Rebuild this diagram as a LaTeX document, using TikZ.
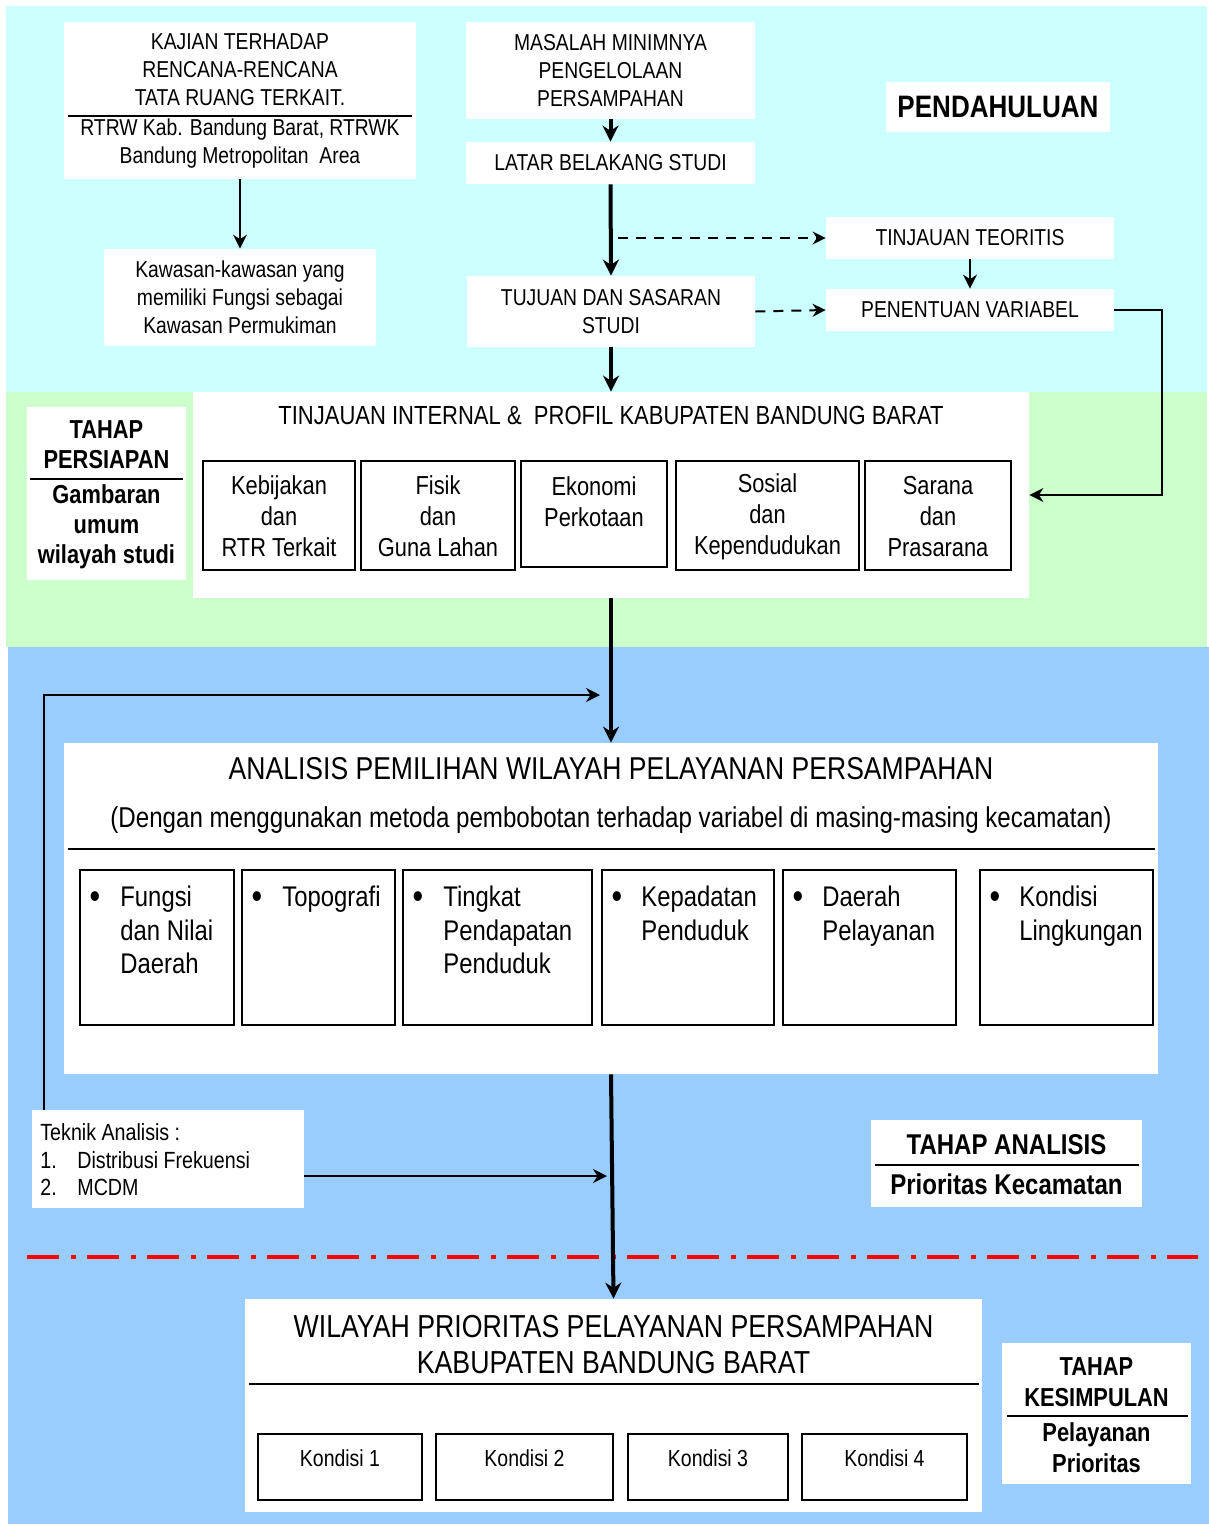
\documentclass[tikz,border=0pt]{standalone}
\usepackage{fontspec}
\setmainfont{Liberation Sans}[FakeStretch=0.84]
\usetikzlibrary{arrows.meta,fit}
\definecolor{cyanbg}{HTML}{CCFFFF}
\definecolor{greenbg}{HTML}{CCFFCC}
\definecolor{bluebg}{HTML}{99CCFF}
\newcommand\fsTop{\fontsize{11.5}{14}\selectfont}
\newcommand\fsPend{\fontsize{15.5}{18}\selectfont\bfseries}
\newcommand\fsInt{\fontsize{13.1}{15}\selectfont}
\newcommand\fsBox{\fontsize{13}{15.5}\selectfont}
\newcommand\fsPers{\fontsize{13}{15}\selectfont\bfseries}
\newcommand\fsAna{\fontsize{15.8}{18}\selectfont}
\newcommand\fsSub{\fontsize{14.35}{16}\selectfont}
\newcommand\fsBul{\fontsize{14.2}{16.75}\selectfont}
\newcommand\fsDot{\fontsize{18}{18}\selectfont}
\newcommand\fsTek{\fontsize{11.7}{13.75}\selectfont}
\newcommand\fsTA{\fontsize{14.3}{17}\selectfont\bfseries}
\newcommand\fsWil{\fontsize{15.9}{18}\selectfont}
\newcommand\fsKon{\fontsize{11.6}{14}\selectfont}
\newcommand\fsKes{\fontsize{13}{15.5}\selectfont\bfseries}
\tikzset{
  wbox/.style={fill=white, draw=none, inner sep=0pt},
  ibox/.style={fill=white, draw=black, line width=1pt, inner sep=0pt},
  txt/.style={inner sep=0pt, align=center},
  divider/.style={line width=1pt},
  thinarr/.style={line width=1pt, -{Stealth[length=7pt,width=7pt]}},
  thickarr/.style={line width=2pt, -{Stealth[length=8pt,width=8pt]}},
  dasharr/.style={line width=1pt, dash pattern=on 5pt off 4pt, -{Stealth[length=6.5pt,width=6.5pt]}},
  redline/.style={red, line width=2pt, dash pattern=on 16pt off 6pt on 2.5pt off 5.5pt},
  bul/.style={inner sep=0pt, font=\fsDot},
  bultxt/.style={inner sep=0pt, align=left, anchor=north west, font=\fsBul},
}
\begin{document}
\begin{tikzpicture}[x=0.5pt,y=-0.5pt]
\useasboundingbox (0,0) rectangle (1209,1526);
% backgrounds
\fill[cyanbg] (6,6) rectangle (1207,392);
\fill[greenbg] (6,392) rectangle (1207,647);
\fill[bluebg] (8,647) rectangle (1209,1524);

% ---------- PENDAHULUAN ----------
\node[wbox, fit={(64,22)(416,179)}] (kaj) {};
\node[txt, font=\fsTop] (kajt) at (240,70) {KAJIAN TERHADAP\\RENCANA-RENCANA\\TATA RUANG TERKAIT.};
\draw[divider] (68,116) -- (412,116);
\node[txt, font=\fsTop] (kajb) at (240,143.5) {RTRW Kab. Bandung Barat, RTRWK\\Bandung Metropolitan~~Area};

\node[wbox, fit={(466,22)(755,119)}] (mas) {};
\node[txt, font=\fsTop] (mast) at (mas.center) {MASALAH MINIMNYA\\PENGELOLAAN\\PERSAMPAHAN};
\node[wbox, fit={(466,142)(755,184)}] (lat) {};
\node[txt, font=\fsTop] (latt) at (lat.center) {LATAR BELAKANG STUDI};
\node[wbox, fit={(104,249)(376,346)}] (kaw) {};
\node[txt, font=\fsTop] (kawt) at (kaw.center) {Kawasan-kawasan yang\\memiliki Fungsi sebagai\\Kawasan Permukiman};
\node[wbox, fit={(826,217)(1114,259)}] (tt) {};
\node[txt, font=\fsTop] (ttt) at (tt.center) {TINJAUAN TEORITIS};
\node[wbox, fit={(826,289)(1114,331)}] (pv) {};
\node[txt, font=\fsTop] (pvt) at (pv.center) {PENENTUAN VARIABEL};
\node[wbox, fit={(467,276)(755,347)}] (tuj) {};
\node[txt, font=\fsTop] (tujt) at (tuj.center) {TUJUAN DAN SASARAN\\STUDI};
\node[wbox, fit={(886,82)(1110,132)}] (pend) {};
\node[txt, font=\fsPend] (pendt) at (pend.center) {PENDAHULUAN};

% ---------- PERSIAPAN ----------
\node[wbox, fit={(193,392)(1029,598)}] (intbox) {};
\node[txt, font=\fsInt] (intt) at (611,415) {TINJAUAN INTERNAL \&~~PROFIL KABUPATEN BANDUNG BARAT};
\node[ibox, fit={(203,461)(355,570)}] (keb) {};
\node[txt, font=\fsBox] (kebt) at (279,516.5) {Kebijakan\\dan\\RTR Terkait};
\node[ibox, fit={(361,461)(515,570)}] (fis) {};
\node[txt, font=\fsBox] (fist) at (438,516.5) {Fisik\\dan\\Guna Lahan};
\node[ibox, fit={(521,461)(667,567)}] (eko) {};
\node[txt, font=\fsBox] (ekot) at (594,501.5) {Ekonomi\\Perkotaan};
\node[ibox, fit={(676,461)(859,570)}] (sos) {};
\node[txt, font=\fsBox] (sost) at (767.5,516.5) {Sosial\\dan\\Kependudukan};
\node[ibox, fit={(865,461)(1011,570)}] (sar) {};
\node[txt, font=\fsBox] (sart) at (938,516.5) {Sarana\\dan\\Prasarana};

\node[wbox, fit={(27,407)(186,580)}] (pers) {};
\node[txt, font=\fsPers] (perst) at (106.5,445) {TAHAP\\PERSIAPAN};
\draw[divider] (30,479) -- (183,479);
\node[txt, font=\fsPers] (persb) at (106.5,527) {Gambaran\\umum\\wilayah studi};

% ---------- ANALISIS ----------
\node[wbox, fit={(64,743)(1158,1074)}] (ana) {};
\node[txt, font=\fsAna] (anat) at (611,769) {ANALISIS PEMILIHAN WILAYAH PELAYANAN PERSAMPAHAN};
\node[txt, font=\fsSub] (anas) at (611,820) {(Dengan menggunakan metoda pembobotan terhadap variabel di masing-masing kecamatan)};
\draw[divider] (68,849) -- (1155,849);

\node[ibox, fit={(80,870)(234,1025)}] (b1) {};
\node[ibox, fit={(242,870)(395,1025)}] (b2) {};
\node[ibox, fit={(403,870)(592,1025)}] (b3) {};
\node[ibox, fit={(602,870)(774,1025)}] (b4) {};
\node[ibox, fit={(783,870)(956,1025)}] (b5) {};
\node[ibox, fit={(980,870)(1153,1025)}] (b6) {};
\node[bul] (d1) at (95,900) {•};
\node[bul] (d2) at (257,900) {•};
\node[bul] (d3) at (418,900) {•};
\node[bul] (d4) at (617,900) {•};
\node[bul] (d5) at (798,900) {•};
\node[bul] (d6) at (995,900) {•};
\node[bultxt] (t1) at (120,886) {Fungsi\\dan Nilai\\Daerah};
\node[bultxt] (t2) at (282,886) {Topografi};
\node[bultxt] (t3) at (443,886) {Tingkat\\Pendapatan\\Penduduk};
\node[bultxt] (t4) at (641,886) {Kepadatan\\Penduduk};
\node[bultxt] (t5) at (822,886) {Daerah\\Pelayanan};
\node[bultxt] (t6) at (1019,886) {Kondisi\\Lingkungan};

\node[wbox, fit={(32,1110)(304,1208)}] (tek) {};
\node[txt, align=left, anchor=west, font=\fsTek] (tekt) at (40,1160) {Teknik Analisis :\\\makebox[18.5pt][l]{1.}Distribusi Frekuensi\\\makebox[18.5pt][l]{2.}MCDM};

\node[wbox, fit={(871,1120)(1142,1207)}] (tan) {};
\node[txt, font=\fsTA] (tant) at (1006.5,1145) {TAHAP ANALISIS};
\draw[divider] (875,1165) -- (1139,1165);
\node[txt, font=\fsTA] (tanb) at (1006.5,1184) {Prioritas Kecamatan};

% ---------- KESIMPULAN ----------
\node[wbox, fit={(245,1299)(982,1512)}] (wil) {};
\node[txt, font=\fsWil] (wilt) at (613.5,1345) {WILAYAH PRIORITAS PELAYANAN PERSAMPAHAN\\KABUPATEN BANDUNG BARAT};
\draw[divider] (249,1384) -- (979,1384);
\node[ibox, fit={(258,1434)(422,1500)}] (k1) {};
\node[ibox, fit={(436,1434)(613,1500)}] (k2) {};
\node[ibox, fit={(628,1434)(788,1500)}] (k3) {};
\node[ibox, fit={(802,1434)(967,1500)}] (k4) {};
\node[txt, font=\fsKon] (k1t) at (340,1458) {Kondisi 1};
\node[txt, font=\fsKon] (k2t) at (524.5,1458) {Kondisi 2};
\node[txt, font=\fsKon] (k3t) at (708,1458) {Kondisi 3};
\node[txt, font=\fsKon] (k4t) at (884.5,1458) {Kondisi 4};

\node[wbox, fit={(1002,1343)(1191,1484)}] (kes) {};
\node[txt, font=\fsKes] (kest) at (1096.5,1382) {TAHAP\\KESIMPULAN};
\draw[divider] (1007,1416) -- (1188,1416);
\node[txt, font=\fsKes] (kesb) at (1096.5,1448) {Pelayanan\\Prioritas};

% ---------- connectors ----------
\draw[thinarr] (kaj.south) -- (kaw.north);
\draw[thickarr] (mas.south) -- (lat.north);
\draw[thickarr] (lat.south) -- (tuj.north);
\coordinate (dstart) at (618,238);
\draw[dasharr] (dstart) -- (tt.west);
\draw[dasharr] (tuj.east) -- (pv.west);
\draw[thinarr] (tt.south) -- (pv.north);
\coordinate (loopc) at (1162,495);
\draw[thinarr] (pv.east) -| (loopc) -- (loopc -| intbox.east);
\draw[thickarr] (tuj.south) -- (intbox.north);
\draw[thickarr] (intbox.south) -- (ana.north);
\coordinate (lpc) at (44,695);
\coordinate (lpend) at (600,695);
\draw[thinarr] (tek.north -| lpc) -- (lpc) -- (lpend);
\draw[redline] (27,1257) -- (1198,1257);
\draw[thickarr] (ana.south) -- (wil.north);
\coordinate (tekend) at (607,1176);
\draw[thinarr] (tekend -| tek.east) -- (tekend);
\end{tikzpicture}
\end{document}
